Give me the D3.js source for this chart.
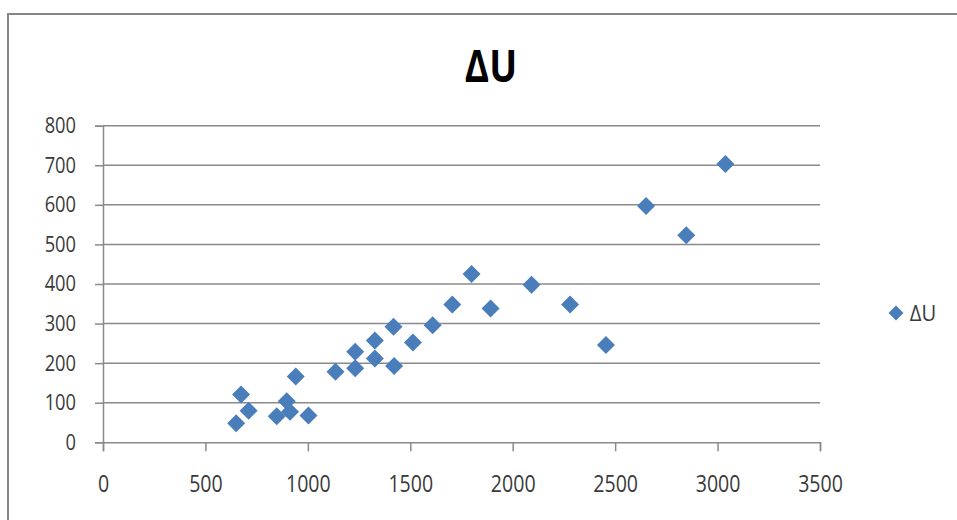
<!DOCTYPE html>
<html>
<head>
<meta charset="utf-8">
<script src="https://cdn.jsdelivr.net/npm/d3@7"></script>
<style>
  html, body { margin: 0; padding: 0; background: #fff; }
  svg { display: block; }
</style>
</head>
<body>
<svg id="chart" width="957" height="520"></svg>
<script>
// ΔU series: x, y pairs
const seriesName = "ΔU";
const xValues = [650, 674, 711, 848, 897, 913, 941, 1003, 1135, 1231, 1231, 1327, 1327, 1418, 1421, 1513, 1609, 1705, 1799, 1892, 2092, 2280, 2455, 2651, 2847, 3038];
const yValues = [48, 121, 80, 66, 104, 77, 166, 68, 178, 229, 187, 257, 212, 292, 193, 252, 296, 348, 425, 338, 398, 348, 246, 597, 523, 703];
const xTicks = [0, 500, 1000, 1500, 2000, 2500, 3000, 3500];
const yTicks = [0, 100, 200, 300, 400, 500, 600, 700, 800];

const svg = d3.select("#chart");
const W = 957, H = 520;
const plot = { left: 103, right: 820, top: 125.7, bottom: 442.3 };
const gridColor = "#8a8a8a";
const markColor = "#4a7ebb";
const labelColor = "#3a3a3a";
const font = "'Open Sans', 'DejaVu Sans', sans-serif";

// outer chart frame
svg.append("rect")
  .attr("x", 8).attr("y", 14)
  .attr("width", W + 20).attr("height", H + 20)
  .attr("fill", "#fff")
  .attr("stroke", "#878787").attr("stroke-width", 2);

const x = d3.scaleLinear().domain([0, 3500]).range([plot.left, plot.right]);
const y = d3.scaleLinear().domain([0, 800]).range([plot.bottom, plot.top]);

// title
svg.append("text")
  .attr("x", 491).attr("y", 82)
  .attr("text-anchor", "middle")
  .attr("font-family", font)
  .attr("font-weight", 700)
  .attr("font-size", 44)
  .attr("transform", "translate(491,0) scale(0.84,1) translate(-491,0)")
  .attr("fill", "#000")
  .text(seriesName);

// horizontal gridlines
svg.append("g")
  .selectAll("line")
  .data(yTicks.filter(d => d > 0))
  .join("line")
  .attr("x1", plot.left).attr("x2", plot.right)
  .attr("y1", d => y(d)).attr("y2", d => y(d))
  .attr("stroke", gridColor).attr("stroke-width", 1.5);

// y axis
const yAxis = svg.append("g")
  .attr("transform", `translate(${plot.left},0)`)
  .call(d3.axisLeft(y).tickValues(yTicks).tickSize(8).tickPadding(20).tickFormat(d3.format("d")));
yAxis.select(".domain").attr("stroke", gridColor).attr("stroke-width", 1.5);
yAxis.selectAll(".tick line").attr("stroke", gridColor).attr("stroke-width", 1.5);
yAxis.selectAll(".tick text")
  .attr("font-family", font).attr("font-size", 21.5)
  .attr("fill", labelColor)
  .attr("transform", "scale(0.85,1)")
  .attr("x", -27 / 0.85);

// x axis
const xAxis = svg.append("g")
  .attr("transform", `translate(0,${plot.bottom})`)
  .call(d3.axisBottom(x).tickValues(xTicks).tickSize(9).tickPadding(24).tickFormat(d3.format("d")));
xAxis.select(".domain").attr("stroke", gridColor).attr("stroke-width", 1.5);
xAxis.selectAll(".tick line").attr("stroke", gridColor).attr("stroke-width", 1.5);
xAxis.selectAll(".tick text")
  .attr("font-family", font).attr("font-size", 23)
  .attr("fill", labelColor)
  .attr("transform", "scale(0.85,1)");

// data points as diamonds
const pts = xValues.map((v, i) => ({ x: v, y: yValues[i] }));
const diamond = r => `M0,${-r}L${r},0L0,${r}L${-r},0Z`;
svg.append("g")
  .selectAll("path")
  .data(pts)
  .join("path")
  .attr("d", diamond(9))
  .attr("transform", d => `translate(${x(d.x)},${y(d.y)})`)
  .attr("fill", markColor);

// legend
const lg = svg.append("g").attr("transform", "translate(896,313)");
lg.append("path").attr("d", diamond(7.5)).attr("fill", markColor);
lg.append("text")
  .attr("x", 15).attr("y", 8)
  .attr("font-family", font).attr("font-size", 22)
  .attr("transform", "scale(0.92,1)")
  .attr("fill", labelColor)
  .text(seriesName);
</script>
</body>
</html>
